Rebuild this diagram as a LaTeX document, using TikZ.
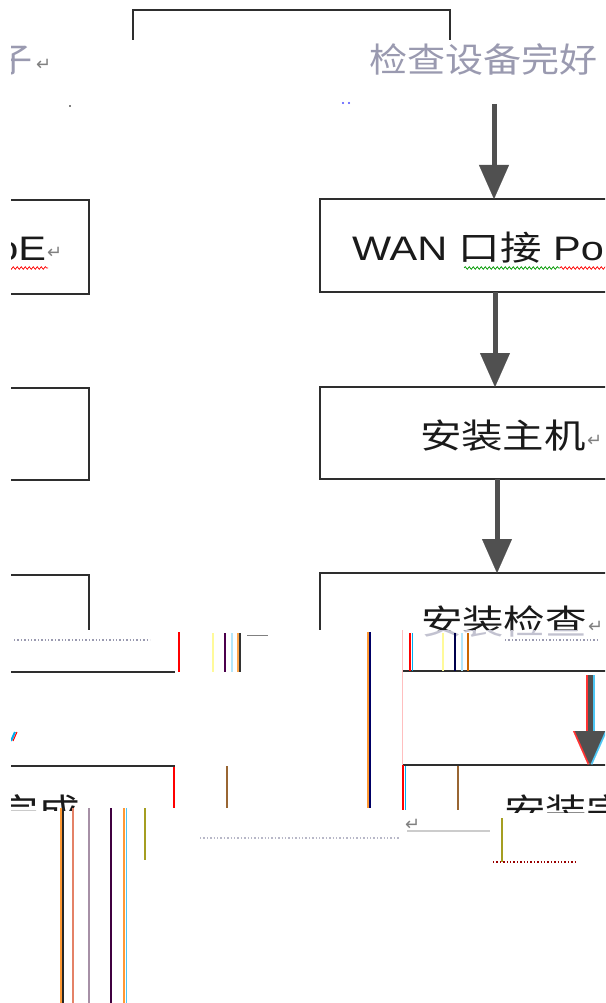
\documentclass[tikz,border=0pt]{standalone}
\usepackage{fontspec}
\setmainfont{Liberation Sans}
\newfontfamily\cjk{Noto Sans CJK SC}
\newfontfamily\symf{DejaVu Sans}
\usetikzlibrary{arrows.meta,decorations.pathmorphing}
\definecolor{lc}{HTML}{2E2E2E}
\definecolor{ac}{HTML}{505050}
\definecolor{noise}{HTML}{9A9AB0}
\definecolor{retc}{HTML}{808080}
\definecolor{tc}{HTML}{1A1A1A}
\newcommand\ret{{\symf\fontsize{18}{18}\selectfont\color{retc}↵}}
\newcommand\bigtxt{\fontsize{34}{34}\selectfont}
\begin{document}
\begin{tikzpicture}[x=1pt,y=-1pt,
  ln/.style={draw=lc,line width=1.6pt},
  boxn/.style={anchor=north west,inner sep=0pt,outer sep=0pt},
  txt/.style={inner sep=0pt,outer sep=0pt,font=\bigtxt,text=tc},
  arr/.style={draw=ac,line width=5pt,-{Triangle[length=34pt,width=30pt,line width=0.1pt,fill=ac]}},
  sq/.style={line width=0.7pt,decorate,decoration={snake,amplitude=1.3pt,segment length=4pt}},
  gl/.style={line width=#1},
  gl/.default=2pt]
\useasboundingbox (0,0) rectangle (605,1003);
\fill[white] (0,0) rectangle (605,1003);
\begin{scope}
\clip (11,0) rectangle (605,1003);

% ---------- top box (partly lost) ----------
\coordinate (tbl) at (133,40);
\coordinate (tbr) at (450,40);
\draw[ln] (tbl) |- (tbr |- 0,10) -- (tbr);
\node[txt,anchor=base west,text=noise] (toptxt) at (369,73) {\scalebox{1.12}[1]{\cjk 检查设备完好}};
\node[txt,anchor=base east,text=noise] (topl) at (33,73) {\scalebox{1.12}[1]{\cjk 子}};
\node[anchor=base west,inner sep=0pt] (topret) at (36,71) {\ret};
\fill[black] (70,106) circle (0.9);
\fill[blue!70] (343,103) circle (1.1);
\fill[blue!70] (349,103) circle (1.1);
\coordinate (a0) at (494,104);

% ---------- right column ----------
\node[boxn,ln,minimum width=350pt,minimum height=93pt] (wan) at (320,199) {};
\node[txt,anchor=base west] (want) at (352,260) {\scalebox{1.22}[1]{WAN {\cjk 口接} PoE}};
\draw[sq,green!60!black] (464,268) -- (560,268);
\draw[sq,red] (560,268) -- (610,268);

\node[boxn,ln,minimum width=350pt,minimum height=92pt] (host) at (320,387) {};
\node[txt,anchor=base west] (hostt) at (420,448) {\scalebox{1.22}[1]{\cjk 安装主机}};
\node[anchor=base west,inner sep=0pt] (hostret) at ([xshift=1pt,yshift=2pt]hostt.base east) {\ret};

\node[boxn,minimum width=350pt,minimum height=98pt] (chk) at (320,573) {};
\draw[ln] (chk.north east) -- (chk.north west) -- ++(0,57);
\draw[ln] (403,671) -- (chk.south east);
\begin{scope}
  \clip (300,560) rectangle (605,630);
  \node[txt,anchor=base west] (chkt) at (421,634) {\scalebox{1.22}[1]{\cjk 安装检查}};
  \node[anchor=base west,inner sep=0pt] (chkret) at ([xshift=1pt,yshift=2pt]chkt.base east) {\ret};
\end{scope}
\begin{scope}
  \clip (300,630) rectangle (605,660);
  \node[txt,anchor=base west,text=noise!60] (chkn) at (421,634) {\scalebox{1.22}[1]{\cjk 安装检查}};
\end{scope}
\draw[dotted,line width=1.4pt,noise] (505,640) -- (600,640);

\node[boxn,minimum width=270pt,minimum height=60pt] (done) at (403,765) {};
\draw[ln] (done.north east) -- (done.north west);
\draw[line width=2pt,red] (403,765) -- (403,810);
\draw[line width=1pt,cyan] (405,766) -- (405,810);
\begin{scope}
  \clip (480,780) rectangle (605,812);
  \node[txt,anchor=base west] (donet) at (504,823) {\scalebox{1.22}[1]{\cjk 安装完成}};
\end{scope}

% arrows
\draw[arr] (a0) -- (wan.north -| a0);
\draw[arr] (wan.south -| 495,0) -- (host.north -| 495,0);
\draw[arr] (host.south -| 497,0) -- (chk.north -| 497,0);
\coordinate (a4) at (590,675);
\draw[arr,draw=red!80,-{Triangle[length=34pt,width=30pt,line width=0.1pt,fill=red!80]}] ([xshift=-2pt]a4) -- ([xshift=-2pt]done.north -| a4);
\draw[arr,draw=cyan!70,-{Triangle[length=34pt,width=30pt,line width=0.1pt,fill=cyan!70]}] ([xshift=2pt]a4) -- ([xshift=2pt]done.north -| a4);
\draw[arr] (a4) -- (done.north -| a4);

% ---------- left column ----------
\node[boxn,ln,minimum width=349pt,minimum height=94pt] (pppoe) at (-260,200) {};
\node[txt,anchor=base east] (pppoet) at (46,260) {\scalebox{1.22}[1]{PPPoE}};
\node[anchor=base west,inner sep=0pt] (pppoeret) at (47,258) {\ret};
\draw[sq,red] (8,268) -- (48,268);

\node[boxn,ln,minimum width=349pt,minimum height=92pt] (lb2) at (-260,388) {};

\node[boxn,minimum width=435pt,minimum height=97pt] (lb3) at (-260,575) {};
\draw[ln] (lb3.north west) -| (89,630);
\draw[ln] (lb3.south west) -- (175,672);
\draw[line width=2pt,red] (179,632) -- (179,672);
\draw[dotted,line width=1.4pt,noise] (14,640) -- (150,640);

\node[boxn,minimum width=435pt,minimum height=50pt] (lb4) at (-260,766) {};
\draw[ln] (lb4.north west) -- (lb4.north east);
\draw[line width=2pt,red] (174,767) -- (174,808);
\begin{scope}
  \clip (0,780) rectangle (200,810);
  \node[txt,anchor=base east] (lb4t) at (80,823) {\scalebox{1.22}[1]{\cjk 安装完成}};
\end{scope}
\draw[line width=2pt,cyan] (11,741) -- (15,732);
\draw[line width=1pt,red] (13,741) -- (17,732);

% ---------- glitch streaks ----------
\draw[gl,yellow!40] (213,633) -- (213,672);
\draw[gl,violet!60!black] (225,633) -- (225,672);
\draw[gl,cyan!30] (232,633) -- (232,672);
\draw[gl,orange!70] (238,633) -- (238,672);
\draw[gl,black!80] (240,633) -- (240,672);
\draw[line width=1pt,gray] (247,635) -- (268,635);
\draw[gl=3pt,orange!80] (368,632) -- (368,808);
\draw[gl,blue!40!black] (370,632) -- (370,808);
\draw[line width=1pt,pink] (402,630) -- (402,765);
\draw[gl,red] (410,633) -- (410,671);
\draw[line width=1pt,cyan] (412,633) -- (412,671);
\draw[gl,yellow!40] (443,633) -- (443,671);
\draw[gl,blue!30!black] (455,633) -- (455,671);
\draw[gl,cyan!30] (462,633) -- (462,671);
\draw[gl,orange!80!black] (468,633) -- (468,671);
\draw[gl,brown!80!black] (227,766) -- (227,808);
\draw[gl,brown!80!black] (458,766) -- (458,810);
\draw[gl=2.5pt,orange!80] (61,808) -- (61,1003);
\draw[gl,black!85] (63,808) -- (63,1003);
\draw[gl,red!40!brown!70] (73,808) -- (73,1003);
\draw[gl,violet!25!gray!70] (89,808) -- (89,1003);
\draw[gl,violet!50!black] (111,808) -- (111,1003);
\draw[gl,orange!80] (124,808) -- (124,1003);
\draw[line width=1pt,cyan!70] (126,808) -- (126,1003);
\draw[gl,olive!80] (145,808) -- (145,860);
\draw[gl,olive!80] (502,818) -- (502,862);
\draw[line width=1.5pt,gray!40] (407,831) -- (490,831);
\node[anchor=base west,inner sep=0pt] (lowret) at (405,830) {\ret};
\draw[dotted,line width=1.4pt,red!60!black] (493,862) -- (575,862);
\draw[dotted,line width=1.4pt,noise!70] (200,838) -- (400,838);
\end{scope}
\end{tikzpicture}
\end{document}
